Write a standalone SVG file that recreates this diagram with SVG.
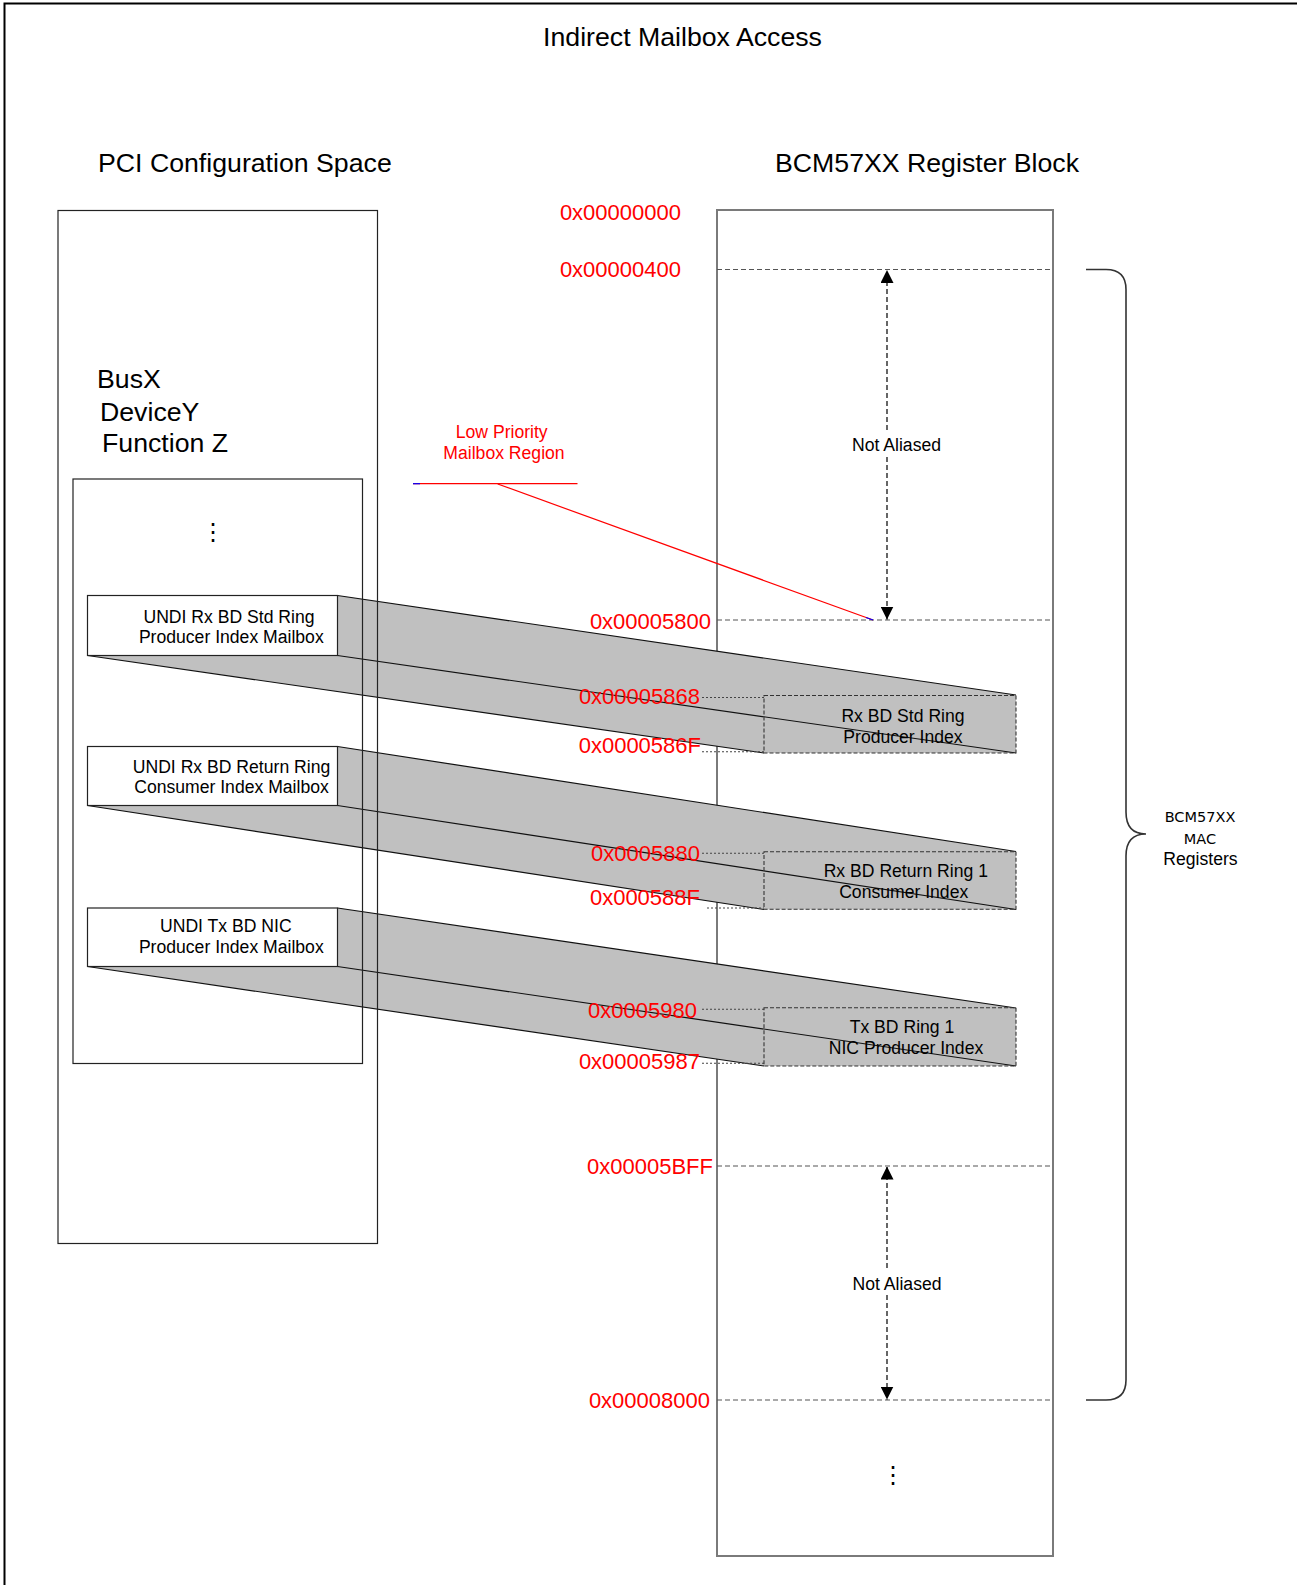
<svg xmlns="http://www.w3.org/2000/svg" width="1297" height="1585" viewBox="0 0 1297 1585">
<style>
text{font-family:"Liberation Sans",Arial,sans-serif;fill:#000}
.h{font-size:26.7px}
.m{font-size:17.6px}
.a{font-size:22px;fill:#ff0000;text-anchor:end}
.r{font-size:17.6px;fill:#ff0000;text-anchor:middle}
.c{text-anchor:middle}
.box{fill:none;stroke:#222;stroke-width:1.2}
.reg{fill:none;stroke:#7a7a7a;stroke-width:2}
.front{fill:#fff;stroke:#222;stroke-width:1.2}
.gray{fill:#c0c0c0;stroke:none}
.edge{stroke:#111;stroke-width:1.2;fill:none}
.back{fill:none;stroke:#333;stroke-width:1.1;stroke-dasharray:4,2}
.lead{stroke:#444;stroke-width:1.1;stroke-dasharray:2,2}
.div{stroke:#555;stroke-width:1.2;stroke-dasharray:5,3}
.arr{stroke:#000;stroke-width:1.2;stroke-dasharray:5,3;fill:none}
.dots{font-family:"DejaVu Sans",sans-serif;font-size:24px;text-anchor:middle}
</style>
<defs>
<marker id="ah" markerUnits="userSpaceOnUse" markerWidth="13" markerHeight="13" viewBox="0 0 12 12" refX="12" refY="6" orient="auto-start-reverse">
<path d="M0,0 L12,6 L0,12 z" fill="#000"/>
</marker>
</defs>
<rect width="1297" height="1585" fill="#fff"/>
<path d="M4.5,1585 V3.5 H1297" fill="none" stroke="#000" stroke-width="2"/>

<text class="h c" x="682.5" y="45.5">Indirect Mailbox Access</text>
<text class="h" x="98" y="172">PCI Configuration Space</text>
<text class="h" x="775" y="172">BCM57XX Register Block</text>

<g id="register-block">
<rect class="reg" x="717" y="210" width="336" height="1346"/>
<line class="div" x1="717" y1="269.5" x2="1053" y2="269.5"/>
<line class="div" x1="717" y1="620" x2="1053" y2="620"/>
<line class="div" x1="717" y1="1166" x2="1053" y2="1166"/>
<line class="div" x1="717" y1="1400" x2="1053" y2="1400"/>
<text class="dots" x="893" y="1483">⋮</text>
</g>

<g id="connectors">
<g id="prism1">
<polygon class="gray" points="337.5,595.5 1016,695 1016,753 764,753 87.5,655.5 337.5,655.5"/>
<line class="edge" x1="337.5" y1="595.5" x2="1016" y2="695"/>
<line class="edge" x1="337.5" y1="655.5" x2="1016" y2="753"/>
<line class="edge" x1="87.5" y1="655.5" x2="764" y2="753"/>
</g>
<g id="prism2">
<polygon class="gray" points="337.5,746.5 1016,851.5 1016,909.5 764,909.5 87.5,805.5 337.5,805.5"/>
<line class="edge" x1="337.5" y1="746.5" x2="1016" y2="851.5"/>
<line class="edge" x1="337.5" y1="805.5" x2="1016" y2="909.5"/>
<line class="edge" x1="87.5" y1="805.5" x2="764" y2="909.5"/>
</g>
<g id="prism3">
<polygon class="gray" points="337.5,908 1016,1008 1016,1066 764,1066 87.5,966.5 337.5,966.5"/>
<line class="edge" x1="337.5" y1="908" x2="1016" y2="1008"/>
<line class="edge" x1="337.5" y1="966.5" x2="1016" y2="1066"/>
<line class="edge" x1="87.5" y1="966.5" x2="764" y2="1066"/>
</g>
<line class="lead" x1="702" y1="697.5" x2="764" y2="697.5"/>
<line class="lead" x1="702" y1="751.7" x2="764" y2="751.7"/>
<line class="lead" x1="702" y1="853.3" x2="764" y2="853.3"/>
<line class="lead" x1="707" y1="908" x2="764" y2="908"/>
<line class="lead" x1="702" y1="1009.3" x2="764" y2="1009.3"/>
<line class="lead" x1="702" y1="1063.3" x2="764" y2="1063.3"/>
<line class="arr" x1="887" y1="430" x2="887" y2="270" marker-end="url(#ah)"/>
<line class="arr" x1="887" y1="457" x2="887" y2="619.5" marker-end="url(#ah)"/>
<line class="arr" x1="887" y1="1268" x2="887" y2="1166.5" marker-end="url(#ah)"/>
<line class="arr" x1="887" y1="1295" x2="887" y2="1399.5" marker-end="url(#ah)"/>
<line x1="413" y1="483.7" x2="577.5" y2="483.7" stroke="#ff0000" stroke-width="1.2"/>
<line x1="413" y1="483.7" x2="420" y2="483.7" stroke="#0000ff" stroke-width="1.2"/>
<line x1="497.7" y1="484" x2="873" y2="620" stroke="#ff0000" stroke-width="1.2"/>
<line x1="866" y1="617.5" x2="873" y2="620" stroke="#0000ff" stroke-width="1.2"/>
<path d="M1086,269.5 H1106 Q1126,269.5 1126,289.5 V812 C1126,826 1132,834 1146,834 C1132,834 1126,842 1126,856 V1380 Q1126,1400 1106,1400 H1086" fill="none" stroke="#333" stroke-width="1.6"/>
</g>

<g id="pci-space">
<rect class="box" x="58" y="210.5" width="319.5" height="1033"/>
<text class="h" x="97" y="388.3">BusX</text>
<text class="h" x="100" y="420.7">DeviceY</text>
<text class="h" x="102" y="451.7">Function Z</text>
</g>
<g id="pci-function">
<rect class="box" x="73" y="479" width="289.5" height="584.5"/>
<text class="dots" x="213" y="540">⋮</text>
</g>

<g id="mailbox-rx-std">
<rect class="front" x="87.5" y="595.5" width="250" height="60"/>
<text class="m c" x="229" y="622.7">UNDI Rx BD Std Ring</text>
<text class="m c" x="231.3" y="642.7">Producer Index Mailbox</text>
</g>
<g id="mailbox-rx-return">
<rect class="front" x="87.5" y="746.5" width="250" height="59"/>
<text class="m c" x="231.5" y="772.7">UNDI Rx BD Return Ring</text>
<text class="m c" x="231.5" y="793.3">Consumer Index Mailbox</text>
</g>
<g id="mailbox-tx">
<rect class="front" x="87.5" y="908" width="250" height="58.5"/>
<text class="m c" x="225.8" y="932.3">UNDI Tx BD NIC</text>
<text class="m c" x="231.3" y="953.3">Producer Index Mailbox</text>
</g>

<g id="reg-rx-std">
<rect class="back" x="764" y="695.5" width="252" height="57.5"/>
<text class="m c" x="903" y="721.7">Rx BD Std Ring</text>
<text class="m c" x="903" y="742.7">Producer Index</text>
</g>
<g id="reg-rx-return">
<rect class="back" x="764" y="851.7" width="252" height="57.6"/>
<text class="m c" x="905.8" y="877.3">Rx BD Return Ring 1</text>
<text class="m c" x="903.7" y="897.7">Consumer Index</text>
</g>
<g id="reg-tx">
<rect class="back" x="764" y="1007.7" width="252" height="58.3"/>
<text class="m c" x="902" y="1033.3">Tx BD Ring 1</text>
<text class="m c" x="906" y="1054">NIC Producer Index</text>
</g>

<g id="labels">
<text class="a" x="681" y="219.5">0x00000000</text>
<text class="a" x="681" y="277">0x00000400</text>
<text class="a" x="711" y="628.5">0x00005800</text>
<text class="a" x="700" y="704">0x00005868</text>
<text class="a" x="701" y="752.5">0x0000586F</text>
<text class="a" x="700" y="860.5">0x0005880</text>
<text class="a" x="700" y="905">0x000588F</text>
<text class="a" x="697" y="1018">0x0005980</text>
<text class="a" x="700" y="1069">0x00005987</text>
<text class="a" x="713" y="1174">0x00005BFF</text>
<text class="a" x="710" y="1408">0x00008000</text>
<text class="m c" x="896.5" y="451">Not Aliased</text>
<text class="m c" x="897" y="1290">Not Aliased</text>
<text class="r" x="501.7" y="437.5">Low Priority</text>
<text class="r" x="504" y="458.5">Mailbox Region</text>
<text x="1200" y="822.3" style="font-family:'DejaVu Sans',sans-serif;font-size:14.5px;text-anchor:middle">BCM57XX</text>
<text x="1200" y="844.3" style="font-family:'DejaVu Sans',sans-serif;font-size:14.5px;text-anchor:middle">MAC</text>
<text class="m c" x="1200.5" y="864.5">Registers</text>
</g>
</svg>
